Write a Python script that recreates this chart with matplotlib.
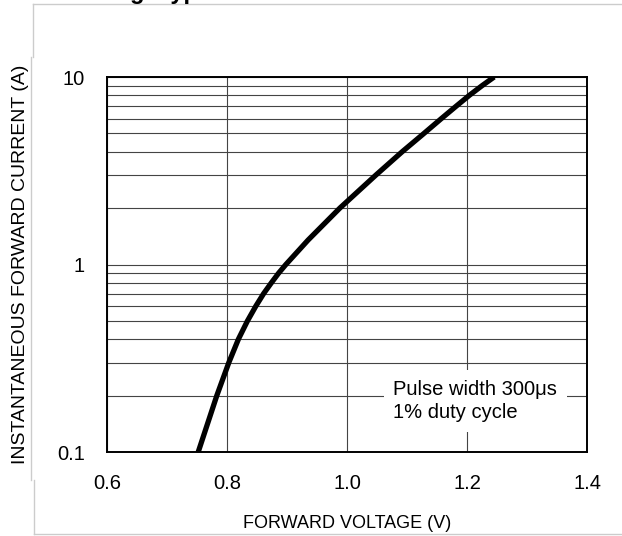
import matplotlib
matplotlib.use("Agg")
import matplotlib.pyplot as plt
from matplotlib.lines import Line2D
from matplotlib.ticker import FixedLocator, NullFormatter

plt.rcParams['font.family'] = ['Liberation Sans', 'DejaVu Sans']

# values
voltage = [0.752, 0.783, 0.803, 0.819, 0.834, 0.848, 0.861, 0.874, 0.886, 0.898,
           0.935, 0.988, 1.048, 1.092, 1.128, 1.157, 1.182, 1.204, 1.225, 1.245]
current = [0.1, 0.2, 0.3, 0.4, 0.5, 0.6, 0.7, 0.8, 0.9, 1.0,
           1.35, 2.0, 3.0, 4.0, 5.0, 6.0, 7.0, 8.0, 9.0, 10.0]

x_ticks = [0.6, 0.8, 1.0, 1.2, 1.4]
x_labels = ["0.6", "0.8", "1.0", "1.2", "1.4"]
y_ticks = [0.1, 1, 10]
y_labels = ["0.1", "1", "10"]
y_minor = [0.2, 0.3, 0.4, 0.5, 0.6, 0.7, 0.8, 0.9,
           2, 3, 4, 5, 6, 7, 8, 9]

fig = plt.figure(figsize=(6.22, 5.36), dpi=100)
ax = fig.add_axes([0.172, 0.1567, 0.772, 0.6996])

ax.plot(voltage, current, color="black", linewidth=3.8, solid_capstyle="butt",
        solid_joinstyle="round", zorder=3)

ax.set_yscale("log")
ax.set_xlim(0.6, 1.4)
ax.set_ylim(0.1, 10)

ax.set_xticks(x_ticks)
ax.set_xticklabels(x_labels)
ax.set_yticks(y_ticks)
ax.set_yticklabels(y_labels)
ax.yaxis.set_minor_locator(FixedLocator(y_minor))
ax.yaxis.set_minor_formatter(NullFormatter())

ax.tick_params(axis="both", which="both", length=0, labelsize=14.5)
ax.tick_params(axis="x", pad=16)
ax.tick_params(axis="y", pad=16)

ax.grid(True, which="both", axis="y", color="#444444", linewidth=0.8)
ax.grid(True, which="major", axis="x", color="#444444", linewidth=0.8)

for s in ax.spines.values():
    s.set_linewidth(1.4)

ax.set_xlabel("FORWARD VOLTAGE (V)", fontsize=13, labelpad=16)
ax.set_ylabel("INSTANTANEOUS FORWARD CURRENT (A)", fontsize=14, labelpad=20)

ax.text(0.596, 0.136, "Pulse width 300\u03bcs\n1% duty cycle", transform=ax.transAxes,
        fontsize=14.5, va="center", ha="left", linespacing=1.3, zorder=4,
        bbox=dict(facecolor="white", edgecolor="none", pad=7))

# clipped title of the scanned page
fig.text(0.175, 1 + 1.5 / 536, "Fig. Typical Forward Characteristics", fontsize=17,
         fontweight="bold", va="baseline", ha="left")

# light page border of the scan
fig.add_artist(Line2D([33 / 622, 1], [1 - 4 / 536, 1 - 4 / 536], color="#cccccc", lw=1))
fig.add_artist(Line2D([33 / 622, 33 / 622], [1 - 4 / 536, 1 - 57 / 536], color="#cccccc", lw=1))
fig.add_artist(Line2D([31 / 622, 31 / 622], [1 - 57 / 536, 1 - 480 / 536], color="#cccccc", lw=1))
fig.add_artist(Line2D([34 / 622, 34 / 622], [1 - 480 / 536, 1 - 534 / 536], color="#cccccc", lw=1))
fig.add_artist(Line2D([34 / 622, 1], [1 - 534 / 536, 1 - 534 / 536], color="#cccccc", lw=1))

fig.savefig("out.png", dpi=100)
